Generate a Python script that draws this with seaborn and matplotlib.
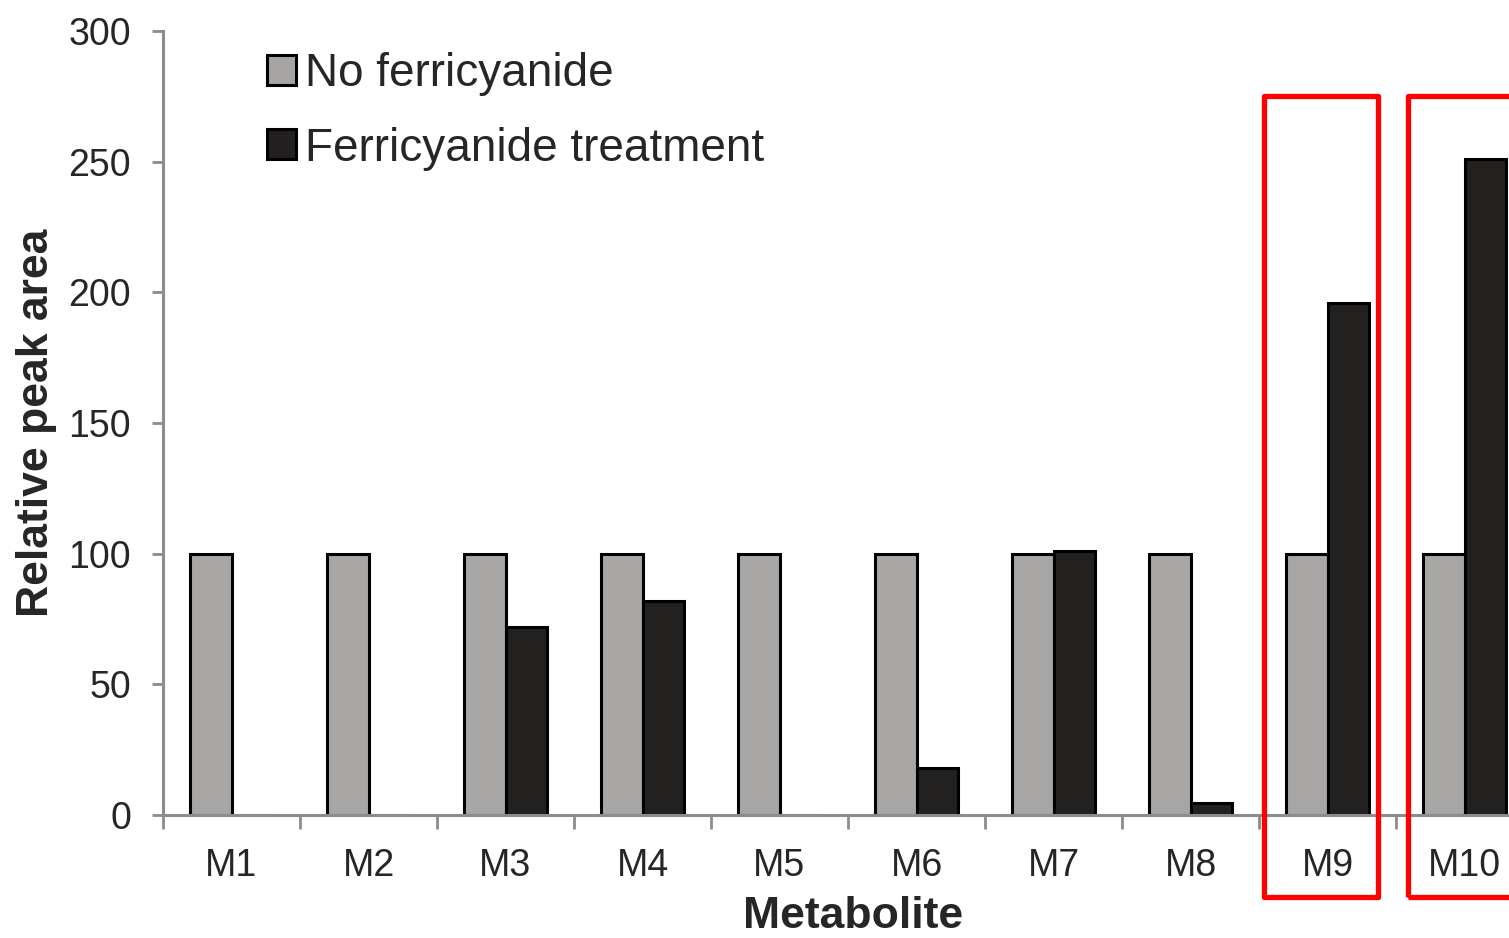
import matplotlib
matplotlib.use("Agg")
import matplotlib.pyplot as plt
import seaborn as sns
import pandas as pd
from matplotlib.patches import Rectangle, Patch

metabolites = ["M1", "M2", "M3", "M4", "M5", "M6", "M7", "M8", "M9", "M10"]
no_ferricyanide = [100, 100, 100, 100, 100, 100, 100, 100, 100, 100]
ferricyanide = [0, 0, 72, 82, 0, 18, 101, 4.5, 196, 251]
series_names = ["No ferricyanide", "Ferricyanide treatment"]
y_ticks = [0, 50, 100, 150, 200, 250, 300]
highlighted = ["M9", "M10"]

sns.set_style("white")
plt.rcParams["font.family"] = ["Liberation Sans", "DejaVu Sans"]

df = pd.DataFrame({
    "Metabolite": metabolites * 2,
    "value": no_ferricyanide + ferricyanide,
    "Treatment": [series_names[0]] * len(metabolites) + [series_names[1]] * len(metabolites),
})

W, H = 1509, 938
fig = plt.figure(figsize=(W / 100, H / 100), dpi=100)
ax = fig.add_axes([163 / W, 123 / H, 1370 / W, 784 / H])

gray = "#A8A4A4"
black = "#231F20"
sns.barplot(data=df, x="Metabolite", y="value", hue="Treatment",
            palette=[gray, black], edgecolor="black", linewidth=2.2,
            width=0.6, gap=0, ax=ax, legend=False)

ax.set_xlim(-0.5, len(metabolites) - 0.5)
ax.set_ylim(0, 300)
ax.set_yticks(y_ticks)
ax.set_yticklabels([str(t) for t in y_ticks], fontsize=27)

# category boundary ticks, labels at centers
ax.set_xticks([i - 0.5 for i in range(len(metabolites))])
ax.set_xticklabels([])
ax.set_xticks(range(len(metabolites)), minor=True)
ax.set_xticklabels(metabolites, minor=True, fontsize=27)
ax.tick_params(axis="x", which="major", bottom=True, length=10, width=2,
               color="#8c8c8c", direction="out")
ax.tick_params(axis="x", which="minor", bottom=True, length=0, pad=24)
ax.tick_params(axis="y", left=True, length=8, width=2, color="#8c8c8c",
               direction="out", pad=15)

for s in ["top", "right"]:
    ax.spines[s].set_visible(False)
for s in ["left", "bottom"]:
    ax.spines[s].set_color("#8c8c8c")
    ax.spines[s].set_linewidth(2.2)

ax.set_xlabel("Metabolite", fontsize=32, fontweight="bold")
ax.set_ylabel("Relative peak area", fontsize=32, fontweight="bold")
ax.xaxis.set_label_coords(0.5 + 5 / 1370, (815 - 896) / 784)
ax.yaxis.set_label_coords((57 - 163) / 1370, 0.5)

handles = [Patch(facecolor=gray, edgecolor="black", linewidth=2.2),
           Patch(facecolor=black, edgecolor="black", linewidth=2.2)]
leg = fig.legend(handles, series_names, loc="upper left",
                 bbox_to_anchor=(249 / W, 1 - 34 / H), frameon=False,
                 fontsize=33, handlelength=0.63, handleheight=0.63,
                 handletextpad=0.2, labelspacing=0.66, borderaxespad=0)

# red highlight boxes
boxes = {"M9": (7.537, 8.369), "M10": (8.588, 9.6)}
for name in highlighted:
    x0, x1 = boxes[name]
    rect = Rectangle((x0, -31.4), x1 - x0, 275.1 + 31.4, fill=False,
                     edgecolor="#FF0000", linewidth=3.8, joinstyle="round",
                     clip_on=False, transform=ax.transData, zorder=5)
    ax.add_patch(rect)

fig.savefig("out.png", dpi=100)
